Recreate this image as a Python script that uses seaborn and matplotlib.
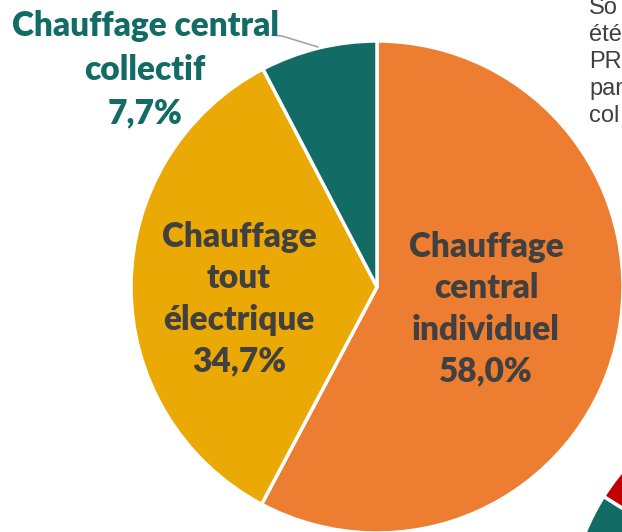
import matplotlib
matplotlib.use("Agg")
import matplotlib.pyplot as plt
import seaborn as sns

# Données du graphique
categories = ["Chauffage\ncentral\nindividuel", "Chauffage\ntout\nélectrique", "Chauffage central\ncollectif"]
parts = [58.0, 34.7, 7.7]
couleurs = ["#ED7D31", "#EAA905", "#136B66"]
couleurs_texte = ["#404040", "#404040", "#136B66"]

# Deuxième camembert (coupé en bas à droite)
parts_2 = [45, 55]
couleurs_2 = ["#136B66", "#C00000"]

# Texte de source coupé par le bord droit
source_lignes = ["So", "été", "PR", "par", "col"]

sns.set_style("white")
plt.rcParams['font.family'] = ['Lato', 'DejaVu Sans']

W, H = 622, 532
fig = plt.figure(figsize=(W / 100, H / 100), dpi=100)

# Camembert principal
cx, cy, r = 377, 287, 246
ax = fig.add_axes([(cx - r) / W, (H - cy - r) / H, 2 * r / W, 2 * r / H])
ax.pie(parts, colors=couleurs, startangle=90, counterclock=False, radius=1,
       wedgeprops=dict(edgecolor="white", linewidth=2.5))
ax.set_xlim(-1, 1)
ax.set_ylim(-1, 1)
ax.set_aspect("equal")
ax.axis("off")

# Second camembert, en grande partie hors du cadre
cx2, cy2, r2 = 800, 620, 232
ax2 = fig.add_axes([(cx2 - r2) / W, (H - cy2 - r2) / H, 2 * r2 / W, 2 * r2 / H])
ax2.pie(parts_2, colors=couleurs_2, startangle=147.8, counterclock=True, radius=1,
        wedgeprops=dict(edgecolor="white", linewidth=2.5))
ax2.set_xlim(-1, 1)
ax2.set_ylim(-1, 1)
ax2.set_aspect("equal")
ax2.axis("off")

# Étiquettes
positions = [(486, 309), (239, 299), (145, 70)]
espacements = [1.36, 1.36, 1.45]
for cat, val, col, (px, py), esp in zip(categories, parts, couleurs_texte, positions, espacements):
    txt = cat + "\n" + f"{val:.1f}%".replace(".", ",")
    fig.text(px / W, 1 - py / H, txt, ha="center", va="center", color=col,
             fontsize=24, fontweight="heavy", linespacing=esp)

# Trait de rappel pour la part collective
fig.add_artist(plt.Line2D([272 / W, 282 / W, 318 / W],
                          [1 - 35 / H, 1 - 36 / H, 1 - 47 / H],
                          color="#A6A6A6", linewidth=1.2))

# Source
for i, ligne in enumerate(source_lignes):
    fig.text(589 / W, 1 - (8 + 27 * i) / H, ligne, ha="left", va="center",
             color="#404040", fontsize=17, family=['Liberation Sans', 'DejaVu Sans'])

fig.savefig("out.png", dpi=100)
